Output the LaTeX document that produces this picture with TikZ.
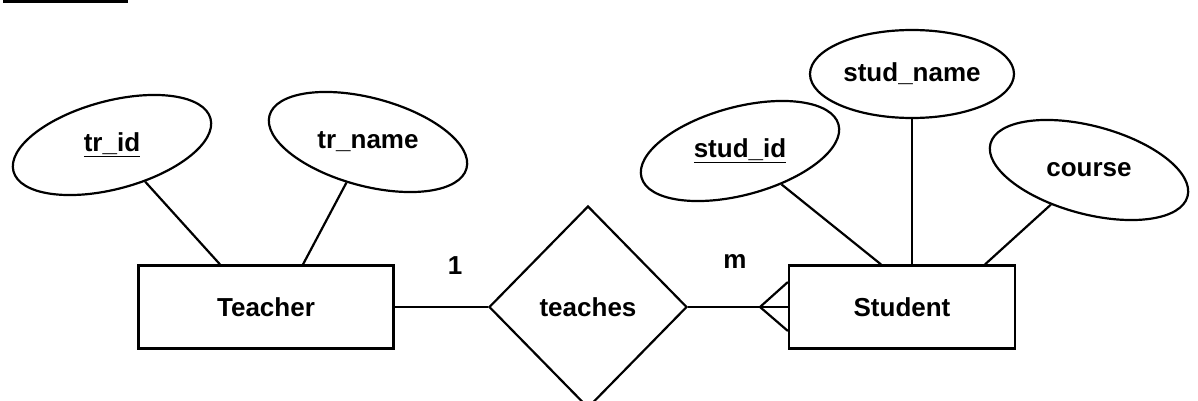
\documentclass[tikz,border=0pt]{standalone}
\usepackage{fontspec}
\setmainfont{Liberation Sans}
\usetikzlibrary{shapes.geometric}

\begin{document}
\begin{tikzpicture}[x=1pt,y=-1pt,line width=2.2pt,
        every node/.style={font=\fontsize{26}{30}\selectfont\bfseries},
        entity/.style={rectangle,draw,minimum height=83pt},
        attrib/.style={ellipse,draw,inner sep=0pt,minimum width=204pt,minimum height=88pt}]
    \useasboundingbox (0,0) rectangle (1198,401);
    \clip (0,0) rectangle (1198,401);
    \fill (3,0) rectangle (128,3);

    \node (teacher) [entity,minimum width=255pt] at (266,307) {Teacher};
    \node (student) [entity,minimum width=226pt] at (902,307) {Student};
    \node (teaches) [diamond,draw,aspect=1,inner sep=0pt,minimum width=198pt,minimum height=202pt] at (588,307) {teaches};

    \node (trid) [attrib,rotate=15] at (112,145) {};
    \node (tridtxt) at (trid.center) {\underline{tr\_id}};
    \node (trname) [attrib,rotate=-15] at (368,142) {};
    \node (trnametxt) at (trname.center) {tr\_name};
    \node (studid) [attrib,rotate=15] at (740,151) {};
    \node (studidtxt) at (studid.center) {\underline{stud\_id}};
    \node (studname) [attrib] at (912,74) {};
    \node (studnametxt) at (studname.center) {stud\_name};
    \node (course) [attrib,rotate=-15] at (1089,170) {};
    \node (coursetxt) at (course.center) {course};

    \node (one) at (455,266) {1};
    \node (many) at (735,261) {m};

    \draw (trid) -- ([xshift=-46pt]teacher.north);
    \draw (trname) -- ([xshift=37pt]teacher.north);
    \draw (studid) -- ([xshift=-21pt]student.north);
    \draw (studname) -- (studname |- student.north);
    \draw (course) -- ([xshift=83pt]student.north);

    \draw (teacher) -- (teaches);
    \draw (teaches) -- (student);
    \coordinate (crow) at (760,307);
    \draw (crow) -- ([yshift=25pt]student.west);
    \draw (crow) -- ([yshift=-24pt]student.west);
\end{tikzpicture}
\end{document}
